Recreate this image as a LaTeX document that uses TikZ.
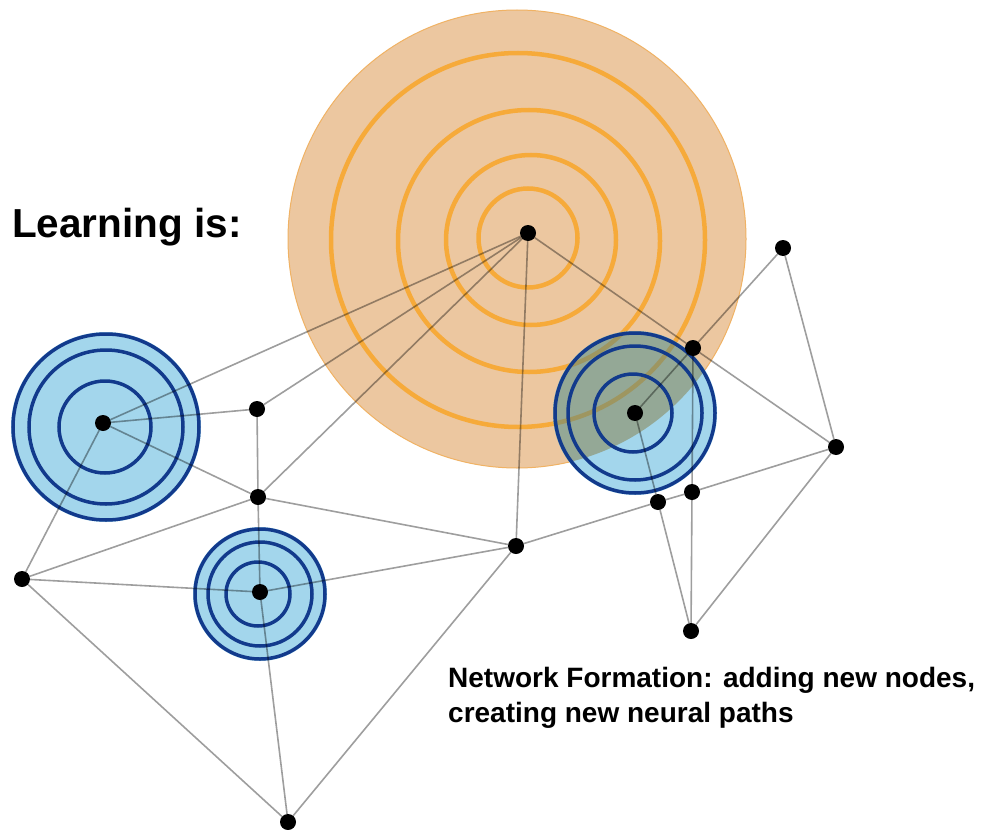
\documentclass[tikz,border=0pt]{standalone}
\usepackage{fontspec}
\setmainfont{Liberation Sans}
\definecolor{orangefill}{RGB}{236,199,160}
\definecolor{orangeedge}{RGB}{240,178,100}
\definecolor{ringorange}{RGB}{246,170,58}
\definecolor{bluefill}{RGB}{163,214,236}
\definecolor{darkblue}{RGB}{18,58,140}
\definecolor{overlapfill}{RGB}{148,168,150}
\definecolor{overlapring}{RGB}{158,150,96}
\begin{document}
\begin{tikzpicture}[x=1pt,y=-1pt,
  edge/.style={draw=black,draw opacity=0.38,line width=1.6pt},
  dot/.style={circle,fill=black,minimum size=16pt,inner sep=0pt},
  oring/.style={draw=ringorange,line width=4.5pt},
  bring/.style={draw=darkblue,line width=3.5pt},
  title/.style={anchor=base west,inner sep=0pt,font=\bfseries\fontsize{40.5pt}{48pt}\selectfont},
  caption/.style={anchor=base west,inner sep=0pt,font=\bfseries\fontsize{28pt}{35pt}\selectfont}]
\useasboundingbox (0,0) rectangle (981,829);
\fill[white] (0,0) rectangle (981,829);
% big orange circle
\fill[orangefill,draw=orangeedge,line width=1pt] (517,239) circle[radius=229pt];
\draw[oring] (528,238) circle[radius=49.5pt];
\draw[oring] (531,240) circle[radius=85pt];
\draw[oring] (529,241) circle[radius=131pt];
\draw[oring] (518,240) circle[radius=187pt];
% blue circle A
\fill[bluefill] (106,427) circle[radius=95pt];
\draw[bring] (106,427) circle[radius=93pt];
\draw[bring] (106,427) circle[radius=77pt];
\draw[bring] (105,427) circle[radius=46pt];
% blue circle E
\fill[bluefill] (260,594) circle[radius=67pt];
\draw[bring] (260,594) circle[radius=65pt];
\draw[bring] (260,594) circle[radius=52pt];
\draw[bring] (258,594) circle[radius=32pt];
% blue circle R over orange
\fill[bluefill] (635,413) circle[radius=82pt];
\begin{scope}
  \clip (635,413) circle[radius=82pt];
  \fill[overlapfill] (517,239) circle[radius=229pt];
  \draw[draw=overlapring,line width=4.5pt] (518,240) circle[radius=187pt];
  \draw[draw=overlapring,line width=4.5pt] (529,241) circle[radius=131pt];
\end{scope}
\draw[bring] (635,413) circle[radius=80pt];
\draw[bring] (635,413) circle[radius=67pt];
\draw[bring] (633,413) circle[radius=39pt];
% nodes
\node[dot] (C) at (528,233) {};
\node[dot] (A) at (103,423) {};
\node[dot] (B) at (257,409) {};
\node[dot] (D) at (258,497) {};
\node[dot] (E) at (260,592) {};
\node[dot] (F) at (22,579) {};
\node[dot] (G) at (288,822) {};
\node[dot] (H) at (516,546) {};
\node[dot] (R) at (635,413) {};
\node[dot] (I) at (693,348) {};
\node[dot] (J) at (783,248) {};
\node[dot] (K) at (836,447) {};
\node[dot] (L) at (658,502) {};
\node[dot] (M) at (692,492) {};
\node[dot] (N) at (691,631) {};
% edges
\draw[edge] (C) -- (A);
\draw[edge] (C) -- (B);
\draw[edge] (C) -- (D);
\draw[edge] (C) -- (H);
\draw[edge] (C) -- (I);
\draw[edge] (I) -- (K);
\draw[edge] (I) -- (J);
\draw[edge] (J) -- (K);
\draw[edge] (R) -- (I);
\draw[edge] (I) -- (M);
\draw[edge] (R) -- (L);
\draw[edge] (H) -- (L);
\draw[edge] (L) -- (M);
\draw[edge] (M) -- (K);
\draw[edge] (K) -- (N);
\draw[edge] (M) -- (N);
\draw[edge] (L) -- (N);
\draw[edge] (A) -- (B);
\draw[edge] (A) -- (D);
\draw[edge] (A) -- (F);
\draw[edge] (B) -- (D);
\draw[edge] (D) -- (E);
\draw[edge] (E) -- (G);
\draw[edge] (D) -- (H);
\draw[edge] (F) -- (D);
\draw[edge] (F) -- (E);
\draw[edge] (F) -- (G);
\draw[edge] (E) -- (H);
\draw[edge] (G) -- (H);
% texts
\node[title] (ttl) at (12,237) {Learning is:};
\node[caption] (cap1) at (448,687) {Network Formation: adding new nodes,};
\node[caption] (cap2) at (448,722) {creating new neural paths};
\end{tikzpicture}
\end{document}
